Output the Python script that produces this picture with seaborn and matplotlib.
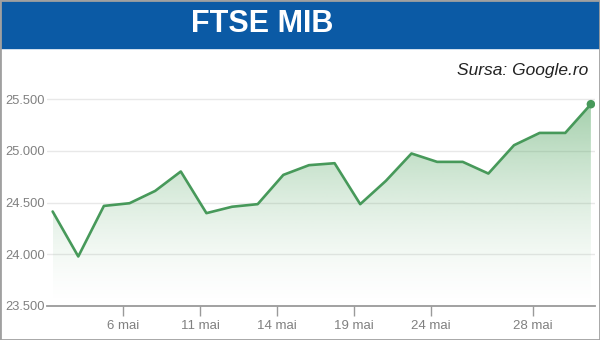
import numpy as np
import pandas as pd
import matplotlib
matplotlib.use("Agg")
import matplotlib.pyplot as plt
import seaborn as sns
from matplotlib.patches import Rectangle
from matplotlib.colors import to_rgb

# ---- data ----
dates = ["3 mai", "4 mai", "5 mai", "6 mai", "7 mai", "10 mai", "11 mai", "12 mai",
         "13 mai", "14 mai", "17 mai", "18 mai", "19 mai", "20 mai", "21 mai", "24 mai",
         "25 mai", "26 mai", "27 mai", "28 mai", "31 mai", "1 iun"]
values = [24414, 23979, 24468, 24494, 24613, 24801, 24398, 24460, 24485, 24768,
          24862, 24881, 24485, 24710, 24975, 24894, 24894, 24781, 25055, 25174,
          25174, 25452]
tick_labels = ["6 mai", "11 mai", "14 mai", "19 mai", "24 mai", "28 mai"]
y_ticks = [23500, 24000, 24500, 25000, 25500]
title = "FTSE MIB"
source = "Sursa: Google.ro"

sns.set_style("white")
plt.rcParams["font.family"] = ["Liberation Sans", "DejaVu Sans"]

df = pd.DataFrame({"pos": np.arange(len(dates)), "val": values, "date": dates})

W, H = 600, 340
fig = plt.figure(figsize=(6, 3.4), dpi=100)
fig.patch.set_facecolor("white")

ax = fig.add_axes([47 / W, 1 - 306 / H, 548 / W, (306 - 83.7) / H])
ax.set_facecolor("none")

ymin, ymax = 23500, 25650
GREEN = "#47995a"

# gradient fill below line
poly = ax.fill_between(df["pos"], df["val"], ymin, color="none", lw=0)
n = 256
t = np.linspace(1, 0, n)
img = np.zeros((n, 1, 4))
img[..., :3] = to_rgb("#5aa968")
img[..., 3] = (t[:, None] ** 1.5) * 0.55
im = ax.imshow(img, extent=[df["pos"].min(), df["pos"].max(), ymin, max(values)],
               aspect="auto", origin="upper", zorder=1, interpolation="bilinear")
im.set_clip_path(poly.get_paths()[0], transform=ax.transData)

sns.lineplot(data=df, x="pos", y="val", color=GREEN, lw=1.9, ax=ax, zorder=3)
sns.scatterplot(data=df.tail(1), x="pos", y="val", color=GREEN, s=38,
                edgecolor="none", ax=ax, zorder=4)

ax.set_xlim(-0.22, 21.16)
ax.set_ylim(ymin, ymax)

# y axis
ax.set_yticks(y_ticks)
ax.set_yticklabels([f"{v:,.0f}".replace(",", ".") for v in y_ticks],
                   fontsize=9.3, color="#808080")
ax.yaxis.grid(True, color="#e8e8e8", lw=1)
ax.tick_params(axis="y", left=False, length=0, pad=1.5)

# x axis
ax.set_xticks([dates.index(l) - 0.25 for l in tick_labels])
ax.set_xticklabels(tick_labels, fontsize=9.5, color="#808080")
ax.tick_params(axis="x", bottom=True, length=7, width=1, color="#9a9a9a",
               direction="out", pad=3)
ax.set_xlabel("")
ax.set_ylabel("")

for s in ["top", "right", "left"]:
    ax.spines[s].set_visible(False)
ax.spines["bottom"].set_color("#9a9a9a")
ax.spines["bottom"].set_linewidth(1.3)

# title bar
fig.add_artist(Rectangle((0, 1 - 48 / H), 1, 48 / H, transform=fig.transFigure,
                         color="#0b5aa5", zorder=0))
fig.text(262 / W, 1 - 24.5 / H, title, ha="center", va="center", color="white",
         fontweight="bold", fontsize=22)
fig.text(588 / W, 1 - 70 / H, source, ha="right", va="center", style="italic",
         fontsize=12.5, color="#222222")

# frame
fig.add_artist(Rectangle((0, 0), 1, 1, transform=fig.transFigure, fill=False,
                         edgecolor="#a0a0a0", lw=2, zorder=10))

fig.savefig("out.png", dpi=100)
